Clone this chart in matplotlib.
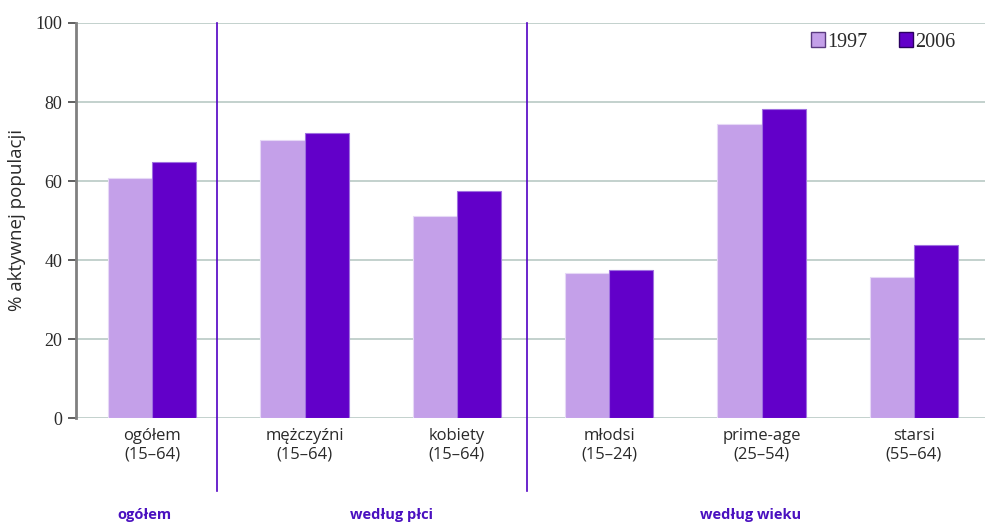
import matplotlib
matplotlib.use("Agg")
import matplotlib.pyplot as plt
import matplotlib.transforms as mtransforms
from matplotlib.patches import Patch
import numpy as np

categories = ["ogółem\n(15–64)", "mężczyźni\n(15–64)", "kobiety\n(15–64)",
              "młodsi\n(15–24)", "prime-age\n(25–54)", "starsi\n(55–64)"]
v1997 = [60.8, 70.3, 51.2, 36.7, 74.5, 35.8]
v2006 = [64.8, 72.2, 57.5, 37.5, 78.3, 43.8]
series_labels = ["1997", "2006"]
group_labels = ["ogółem", "według płci", "według wieku"]
yticks = [0, 20, 40, 60, 80, 100]

c1997 = "#c4a0e9"
c2006 = "#6200c9"
sep_color = "#5200c4"
grid_color = "#b9cac5"
text_color = "#2a2a2a"
group_color = "#4a10c0"

sans = ["Open Sans", "DejaVu Sans"]
serif = ["Liberation Serif", "DejaVu Serif"]

fig = plt.figure(figsize=(9.85, 5.22), dpi=100)
ax = fig.add_axes([76/985, 1-418.3/522, (985-76)/985, (418.3-23)/522])

x = np.arange(len(categories))
w = 0.29
ax.bar(x - w/2, v1997, width=w, color=c1997, edgecolor="#e6d8f6", linewidth=0.8, zorder=3)
ax.bar(x + w/2, v2006, width=w, color=c2006, edgecolor="#a070e0", linewidth=0.8, zorder=3)

ax.set_xlim(-0.5, 5.466)
ax.set_ylim(0, 100)
ax.set_yticks(yticks)
ax.set_yticklabels([str(t) for t in yticks], fontfamily=serif, fontsize=13, color=text_color)
for t in yticks:
    ax.axhline(t, color=grid_color, linewidth=1.2, zorder=1)

ax.set_xticks(x)
ax.set_xticklabels(categories, fontfamily=sans, fontsize=12, color=text_color, linespacing=1.2)
ax.tick_params(axis="x", length=0, pad=7)
ax.tick_params(axis="y", length=6, width=1.2, color="#444444", pad=4)

for s in ["top", "right", "bottom"]:
    ax.spines[s].set_visible(False)
ax.spines["left"].set_color("#808080")
ax.spines["left"].set_linewidth(2)

ax.set_ylabel("% aktywnej populacji", fontfamily=sans, fontsize=13.5, color=text_color)
label_trans = mtransforms.blended_transform_factory(fig.transFigure, ax.transAxes)
ax.yaxis.set_label_coords(17/985, 1 - (220 - 23)/(418.3 - 23), transform=label_trans)
ax.yaxis.label.set_va("center")

# separators
for sx in [0.428, 2.463]:
    ax.plot([sx, sx], [100, -18.4], color=sep_color, linewidth=1.2, clip_on=False, zorder=4)

# group labels
trans = mtransforms.blended_transform_factory(ax.transData, fig.transFigure)
for gx, lab in zip([-0.05, 1.57, 3.93], group_labels):
    ax.text(gx, 1-515/522, lab, transform=trans, ha="center", va="center",
            fontfamily=sans, fontsize=10.5, fontweight="bold", color=group_color)

handles = [Patch(facecolor=c1997, edgecolor="#5a3a80", linewidth=1.0),
           Patch(facecolor=c2006, edgecolor="#2a0060", linewidth=1.0)]
leg = ax.legend(handles, series_labels, loc="center left", bbox_to_anchor=(811/985, 1-42/522),
                bbox_transform=fig.transFigure, ncol=2, frameon=False,
                handlelength=0.7, handleheight=0.7, handletextpad=0.1, columnspacing=1.55,
                borderaxespad=0, borderpad=0,
                prop={"family": serif, "size": 14.5})
for t in leg.get_texts():
    t.set_color(text_color)

fig.savefig("out.png", dpi=100)
